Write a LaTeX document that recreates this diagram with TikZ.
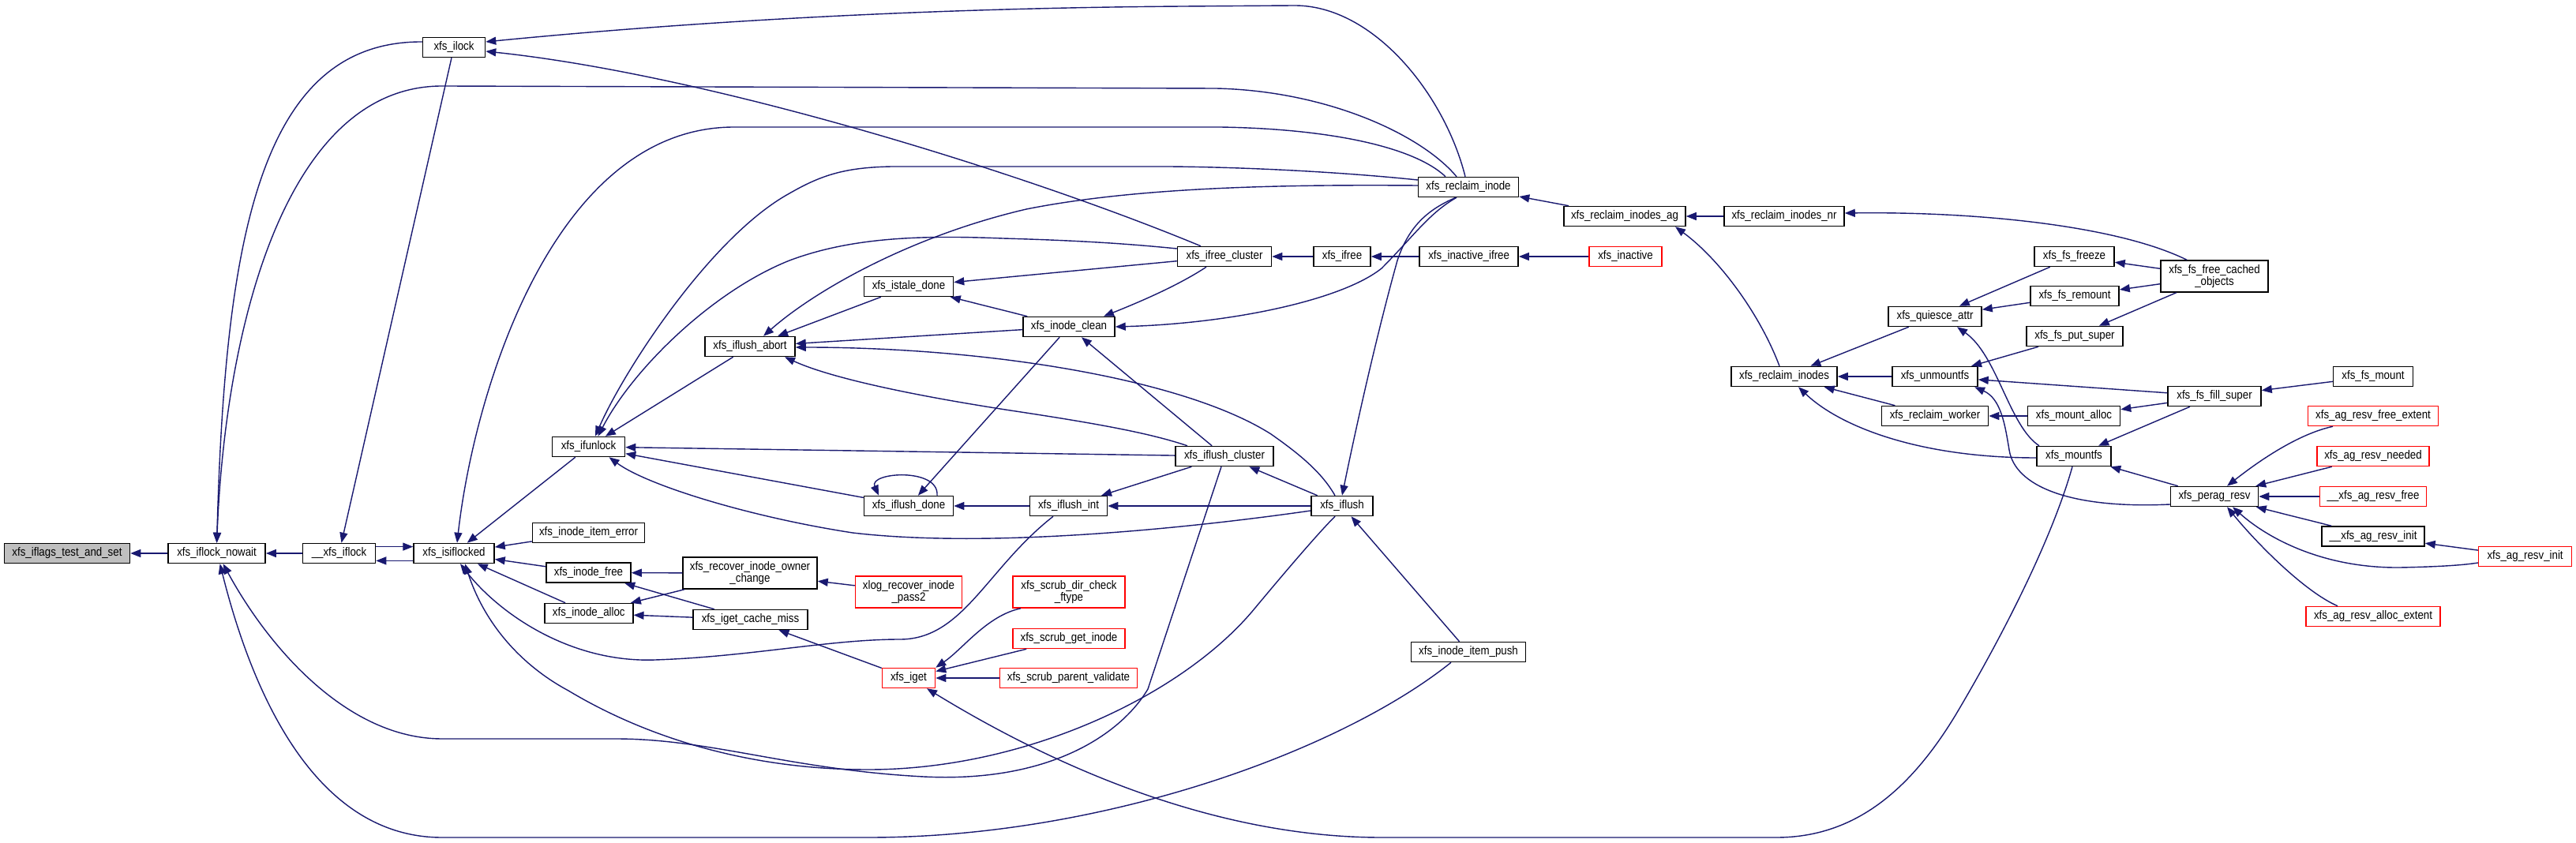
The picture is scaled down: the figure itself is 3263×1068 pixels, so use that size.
\documentclass[tikz,border=0pt]{standalone}
\usepackage{fontspec}
\setmainfont{Liberation Sans}
\newfontfamily\doxfont[FakeStretch=0.875]{Liberation Sans}
\usetikzlibrary{arrows.meta}
\definecolor{edgec}{HTML}{191970}
\definecolor{rootfill}{HTML}{BFBFBF}
\begin{document}
\begin{tikzpicture}[x=0.5pt,y=-0.5pt,
  box/.style={draw=black,line width=0.75pt,fill=white,font=\doxfont\fontsize{7.6}{7.3}\selectfont,inner xsep=1pt,inner ysep=0pt,minimum height=12.5pt,align=center},
  rbox/.style={box,draw=red},
  tall/.style={minimum height=20pt},
  e/.style={draw=edgec,line width=0.7pt,{Triangle[length=6.5pt,width=5pt]}-}
]
\useasboundingbox[fill=white] (0,0) rectangle (3263,1068);

% ---------- nodes ----------
\node[box,fill=rootfill,minimum width=79.5pt] (iflags) at (85,701) {xfs\_iflags\_test\_and\_set};
\node[box,minimum width=61.5pt] (nowait) at (274.6,701) {xfs\_iflock\_nowait};
\node[box,minimum width=46pt] (uiflock) at (429.5,701) {\_\_xfs\_iflock};
\node[box,minimum width=51pt] (isiflocked) at (575,701) {xfs\_isiflocked};
\node[box,minimum width=39.5pt] (ilock) at (575,60) {xfs\_ilock};
\node[box,minimum width=46pt] (ifunlock) at (745.5,566) {xfs\_ifunlock};
\node[box,minimum width=71pt] (itemerror) at (745.5,675) {xfs\_inode\_item\_error};
\node[box,minimum width=53.5pt] (inodefree) at (745.5,725.6) {xfs\_inode\_free};
\node[box,minimum width=56pt] (inodealloc) at (745.8,777) {xfs\_inode\_alloc};
\node[box,minimum width=57pt] (iflushabort) at (950,439) {xfs\_iflush\_abort};
\node[box,tall,minimum width=85pt] (recover) at (950,726) {xfs\_recover\_inode\_owner\\\_change};
\node[box,minimum width=72.5pt] (cachemiss) at (950.5,785) {xfs\_iget\_cache\_miss};
\node[box,minimum width=63.5pt] (reclaiminode) at (1860,237) {xfs\_reclaim\_inode};
\node[box,minimum width=59.5pt] (ifreecluster) at (1551,325) {xfs\_ifree\_cluster};
\node[box,minimum width=36pt] (ifree) at (1700,325) {xfs\_ifree};
\node[box,minimum width=62.5pt] (inactiveifree) at (1860.6,325) {xfs\_inactive\_ifree};
\node[box,minimum width=56.5pt] (istale) at (1151,363) {xfs\_istale\_done};
\node[box,minimum width=58pt] (inodeclean) at (1354,414) {xfs\_inode\_clean};
\node[box,minimum width=62pt] (iflushcluster) at (1551,578) {xfs\_iflush\_cluster};
\node[box,minimum width=56.5pt] (iflushdone) at (1151,641) {xfs\_iflush\_done};
\node[box,minimum width=49pt] (iflushint) at (1353.5,641) {xfs\_iflush\_int};
\node[box,minimum width=39pt] (iflush) at (1700,641) {xfs\_iflush};
\node[rbox,tall,minimum width=67.5pt] (xlog) at (1151,750) {xlog\_recover\_inode\\\_pass2};
\node[rbox,tall,minimum width=71pt] (dircheck) at (1354,750) {xfs\_scrub\_dir\_check\\\_ftype};
\node[rbox,minimum width=71pt] (getinode) at (1354,809) {xfs\_scrub\_get\_inode};
\node[rbox,minimum width=87pt] (parentval) at (1353.5,859) {xfs\_scrub\_parent\_validate};
\node[rbox,minimum width=33.5pt] (iget) at (1151,859) {xfs\_iget};
\node[box,minimum width=72.5pt] (itempush) at (1860,826) {xfs\_inode\_item\_push};
\node[box,minimum width=77pt] (reclaimag) at (2058,274) {xfs\_reclaim\_inodes\_ag};
\node[box,minimum width=76pt] (reclaimnr) at (2260,274) {xfs\_reclaim\_inodes\_nr};
\node[rbox,minimum width=46pt] (inactive) at (2059,325) {xfs\_inactive};
\node[box,minimum width=67pt] (reclaiminodes) at (2260,477) {xfs\_reclaim\_inodes};
\node[box,minimum width=59pt] (quiesce) at (2451,401) {xfs\_quiesce\_attr};
\node[box,minimum width=54pt] (unmountfs) at (2451,477) {xfs\_unmountfs};
\node[box,minimum width=67.5pt] (reclaimworker) at (2451,527) {xfs\_reclaim\_worker};
\node[box,minimum width=47pt] (mountfs) at (2627,578) {xfs\_mountfs};
\node[box,minimum width=50.5pt] (freeze) at (2627.5,325) {xfs\_fs\_freeze};
\node[box,minimum width=56pt] (remount) at (2628,375) {xfs\_fs\_remount};
\node[box,minimum width=61pt] (putsuper) at (2628,426) {xfs\_fs\_put\_super};
\node[box,minimum width=58.5pt] (mountalloc) at (2627,527) {xfs\_mount\_alloc};
\node[box,tall,minimum width=68pt] (freecached) at (2805,350) {xfs\_fs\_free\_cached\\\_objects};
\node[box,minimum width=59pt] (fillsuper) at (2805,502) {xfs\_fs\_fill\_super};
\node[box,minimum width=55.5pt] (peragresv) at (2805,629) {xfs\_perag\_resv};
\node[box,minimum width=50.5pt] (fsmount) at (3006,477) {xfs\_fs\_mount};
\node[rbox,minimum width=82.5pt] (freeextent) at (3006,527) {xfs\_ag\_resv\_free\_extent};
\node[rbox,minimum width=71pt] (needed) at (3006,578) {xfs\_ag\_resv\_needed};
\node[rbox,minimum width=67.5pt] (uresvfree) at (3006,629) {\_\_xfs\_ag\_resv\_free};
\node[box,minimum width=65pt] (uresvinit) at (3006,679.5) {\_\_xfs\_ag\_resv\_init};
\node[rbox,minimum width=59pt] (resvinit) at (3198.6,705) {xfs\_ag\_resv\_init};
\node[rbox,minimum width=85pt] (allocextent) at (3006,781) {xfs\_ag\_resv\_alloc\_extent};

% ---------- edges (arrow at callee) ----------
\draw[e] (iflags) -- (nowait);
\draw[e] (nowait) -- (uiflock);
\draw[e] (nowait.north) .. controls (285,300) and (330,52) .. ([yshift=3.5pt]ilock.west);
\draw[e] (nowait.north) .. controls (285,420) and (360,109) .. (560,109) -- (1540,112) .. controls (1680,115) and (1800,170) .. ([xshift=-7.5pt]reclaiminode.north);
\draw[e] (uiflock) -- (ilock);
\draw[e] ([yshift=4.2pt]isiflocked.west) -- ([yshift=4.2pt]uiflock.east);
\draw[e] ([yshift=-4.7pt]uiflock.east) -- ([yshift=-4.7pt]isiflocked.west);
\draw[e] ([xshift=2pt]isiflocked.north) .. controls (600,500) and (700,161) .. (930,161) -- (1545,161) .. controls (1680,163) and (1790,185) .. ([xshift=-14.5pt]reclaiminode.north);
\draw[e] (isiflocked) -- (ifunlock);
\draw[e] (isiflocked) -- (itemerror);
\draw[e] (isiflocked) -- (inodefree);
\draw[e] (isiflocked) -- (inodealloc);
\draw[e] ([xshift=4pt]isiflocked.south) .. controls (630,775) and (720,840) .. (830,836) .. controls (950,832) and (1050,810) .. (1140,810) .. controls (1220,810) and (1250,720) .. ([xshift=-9.75pt]iflushint.south);
\draw[e] ([xshift=4pt]nowait.south) .. controls (340,820) and (440,936) .. (560,936) -- (780,936) .. controls (900,936) and (1000,975) .. (1170,984) .. controls (1330,992) and (1420,930) .. (1454,873) -- ([xshift=-2pt]iflushcluster.south);
\draw[e] ([xshift=7pt]isiflocked.south) .. controls (612,785) and (655,840) .. (720,875) .. controls (820,935) and (950,975) .. (1100,975) .. controls (1300,975) and (1500,880) .. (1590,770) .. controls (1640,710) and (1675,670) .. ([xshift=-4.5pt]iflush.south);
\draw[e] ([xshift=2pt]nowait.south) .. controls (320,880) and (400,1061) .. (560,1061) -- (1100,1061) .. controls (1400,1061) and (1700,950) .. ([xshift=-11pt]itempush.south);
\draw[e] ([xshift=11.5pt]iget.south) .. controls (1350,980) and (1550,1061) .. (1750,1061) -- (2250,1061) .. controls (2350,1061) and (2420,1000) .. (2477,906) .. controls (2540,800) and (2600,680) .. ([xshift=-1pt]mountfs.south);
\draw[e] (cachemiss) -- (iget);
\draw[e] (inodefree) -- (recover);
\draw[e] (inodefree) -- (cachemiss);
\draw[e] (inodealloc) -- (recover);
\draw[e] (inodealloc) -- (cachemiss);
\draw[e] (recover) -- (xlog);
\draw[e] ([yshift=3.5pt]ilock.east) .. controls (900,25) and (1200,10) .. (1500,8) -- (1640,7) .. controls (1740,7) and (1830,120) .. ([xshift=-2pt]reclaiminode.north);
\draw[e] ([yshift=-2.5pt]ilock.east) .. controls (900,95) and (1300,220) .. ([xshift=-15pt]ifreecluster.north);
\draw[e] ([xshift=4.25pt]ifunlock.north) .. controls (790,470) and (900,300) .. (1000,245) .. controls (1040,222) and (1070,212) .. (1130,211) -- (1480,211) .. controls (1600,212) and (1720,220) .. ([yshift=4.5pt]reclaiminode.west);
\draw[e] ([xshift=6pt]ifunlock.north) .. controls (800,470) and (900,370) .. (1000,330) .. controls (1080,300) and (1170,298) .. (1270,302) .. controls (1380,305) and (1440,310) .. ([yshift=5pt]ifreecluster.west);
\draw[e] (ifunlock) -- (iflushabort);
\draw[e] (ifunlock) -- (iflushcluster);
\draw[e] (ifunlock) -- (iflushdone);
\draw[e] ([xshift=13pt]ifunlock.south) .. controls (820,615) and (950,655) .. (1080,675) .. controls (1250,695) and (1500,670) .. ([yshift=-3pt]iflush.west);
\draw[e] ([xshift=8.5pt]iflushabort.north) .. controls (1030,370) and (1150,300) .. (1300,265) .. controls (1450,235) and (1650,234) .. ([yshift=1pt]reclaiminode.west);
\draw[e] (iflushabort) -- (istale);
\draw[e] (iflushabort) -- (inodeclean);
\draw[e] ([yshift=-0.5pt]iflushabort.east) .. controls (1250,440) and (1500,480) .. (1610,550) .. controls (1650,578) and (1675,600) .. ([xshift=-4.5pt]iflush.north);
\draw[e] ([xshift=22pt]iflushabort.south) .. controls (1050,478) and (1150,500) .. (1280,520) .. controls (1400,538) and (1460,550) .. ([xshift=-23.5pt]iflushcluster.north);
\draw[e] (istale) -- (ifreecluster);
\draw[e] (istale) -- (inodeclean);
\draw[e] ([xshift=22pt]inodeclean.north) .. controls (1450,380) and (1495,360) .. ([xshift=-11.5pt]ifreecluster.south);
\draw[e] (inodeclean.east) .. controls (1560,410) and (1700,380) .. (1750,340) .. controls (1790,300) and (1810,270) .. ([xshift=-7.5pt]reclaiminode.south);
\draw[e] (inodeclean) -- (iflushcluster);
\draw[e] (iflushdone) -- (inodeclean);
\draw[e] ([xshift=-19pt]iflushdone.north) .. controls (1100,598) and (1190,592) .. ([xshift=18pt]iflushdone.north);
\draw[e] (iflushdone) -- (iflushint);
\draw[e] (iflushint) -- (iflushcluster);
\draw[e] (iflushint) -- (iflush);
\draw[e] (iflushcluster) -- (iflush);
\draw[e] (iflush.north) .. controls (1720,530) and (1745,420) .. (1770,330) .. controls (1785,285) and (1810,265) .. ([xshift=-8pt]reclaiminode.south);
\draw[e] (iflush) -- (itempush);
\draw[e] (ifreecluster) -- (ifree);
\draw[e] (ifree) -- (inactiveifree);
\draw[e] (inactiveifree) -- (inactive);
\draw[e] (reclaiminode) -- (reclaimag);
\draw[e] (reclaimag) -- (reclaimnr);
\draw[e] ([xshift=32pt]reclaimag.south) .. controls (2180,330) and (2230,400) .. ([xshift=-3pt]reclaiminodes.north);
\draw[e] ([yshift=2pt]reclaimnr.east) .. controls (2500,268) and (2680,285) .. ([xshift=-17.5pt]freecached.north);
\draw[e] (reclaiminodes) -- (quiesce);
\draw[e] (reclaiminodes) -- (unmountfs);
\draw[e] (reclaiminodes) -- (reclaimworker);
\draw[e] ([xshift=9pt]reclaiminodes.south) .. controls (2330,540) and (2430,580) .. ([yshift=-1pt]mountfs.west);
\draw[e] (quiesce) -- (freeze);
\draw[e] (quiesce) -- (remount);
\draw[e] ([xshift=14pt]quiesce.south) .. controls (2530,450) and (2545,540) .. ([xshift=-22pt]mountfs.north);
\draw[e] (unmountfs) -- (putsuper);
\draw[e] (unmountfs) -- (fillsuper);
\draw[e] ([xshift=25pt]unmountfs.south) .. controls (2535,505) and (2540,540) .. (2545,570) .. controls (2552,615) and (2620,645) .. ([yshift=-5pt]peragresv.west);
\draw[e] (reclaimworker) -- (mountalloc);
\draw[e] (mountalloc) -- (fillsuper);
\draw[e] (mountfs) -- (fillsuper);
\draw[e] (mountfs) -- (peragresv);
\draw[e] (putsuper) -- (freecached);
\draw[e] (remount) -- (freecached);
\draw[e] (freeze) -- (freecached);
\draw[e] (fillsuper) -- (fsmount);
\draw[e] ([xshift=8pt]peragresv.north) .. controls (2860,585) and (2910,550) .. ([xshift=-25.5pt]freeextent.south);
\draw[e] (peragresv) -- (needed);
\draw[e] (peragresv) -- (uresvfree);
\draw[e] (peragresv) -- (uresvinit);
\draw[e] ([xshift=11.5pt]peragresv.south) .. controls (2870,680) and (2940,720) .. (3040,719) .. controls (3090,718) and (3120,716) .. ([yshift=-4pt]resvinit.west);
\draw[e] ([xshift=8pt]peragresv.south) .. controls (2860,690) and (2920,750) .. ([xshift=-22.5pt]allocextent.north);
\draw[e] (uresvinit) -- (resvinit);
\draw[e] (iget.north east) .. controls (1220,822) and (1250,780) .. ([xshift=-30.5pt]dircheck.south);
\draw[e] (iget) -- (getinode);
\draw[e] (iget) -- (parentval);
\end{tikzpicture}
\end{document}
